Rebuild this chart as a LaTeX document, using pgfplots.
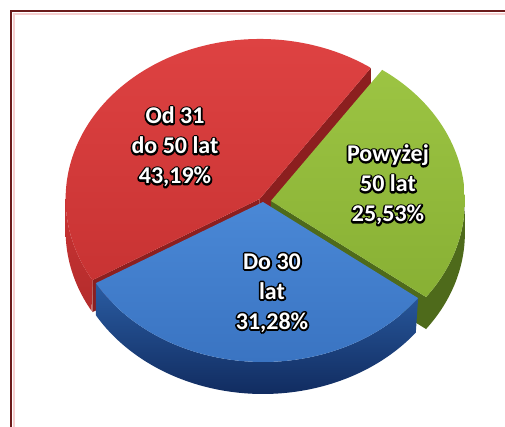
\documentclass[border=0pt]{standalone}
\usepackage{fontspec}
\setmainfont{Carlito}
\usepackage{pgfplots}
\usepackage{pgfplotstable}
\pgfplotsset{compat=1.18}

\definecolor{redTopA}{HTML}{DE4242}
\definecolor{redTopB}{HTML}{C83333}
\definecolor{redSide}{HTML}{8C1F1F}
\definecolor{redSideOut}{HTML}{B42C2C}
\definecolor{blueTopA}{HTML}{4A88D6}
\definecolor{blueTopB}{HTML}{3A74C2}
\definecolor{blueSideA}{HTML}{2A5CA2}
\definecolor{blueSideB}{HTML}{112C60}
\definecolor{greenTopA}{HTML}{9CC443}
\definecolor{greenTopB}{HTML}{88B034}
\definecolor{greenSide}{HTML}{4E6A1B}
\definecolor{frameC}{HTML}{6B1A1A}
\definecolor{frameGlow}{HTML}{F6CFCF}

% shares of the pie (percent)
\pgfplotstableread{
group value
Od31do50 43.19
Do30 31.28
Powyzej50 25.53
}\piedata

\newcommand\strk[1]{\special{pdf:literal direct 1 Tr 3.4 w 1 j}#1\special{pdf:literal direct 0 Tr}}

\pgfplotstablegetelem{0}{value}\of\piedata\let\vR\pgfplotsretval
\pgfplotstablegetelem{1}{value}\of\piedata\let\vB\pgfplotsretval
\pgfplotstablegetelem{2}{value}\of\piedata\let\vG\pgfplotsretval
% geometry (pixel-like units)
\def\cx{263}\def\cy{225}\def\ra{194}\def\rb{160}\def\dd{32}
\pgfmathsetmacro\aS{55}
\pgfmathsetmacro\aRB{\aS+3.6*\vR}
\pgfmathsetmacro\aBG{\aRB+3.6*\vB}
\pgfmathsetmacro\aE{\aBG+3.6*\vG}
% explosion offsets
\pgfmathsetmacro\mR{(\aS+\aRB)/2}
\pgfmathsetmacro\mG{(\aBG+\aE)/2}
\pgfmathsetmacro\rox{5*cos(\mR)}
\pgfmathsetmacro\roy{5*sin(\mR)*\rb/\ra}
\pgfmathsetmacro\gox{8*cos(\mG)}
\pgfmathsetmacro\goy{8*sin(\mG)*\rb/\ra}
\pgfmathsetmacro\rcx{\cx+\rox}\pgfmathsetmacro\rcy{\cy+\roy}
\pgfmathsetmacro\gcx{\cx+\gox}\pgfmathsetmacro\gcy{\cy+\goy}
\pgfmathsetmacro\rcyd{\rcy-\dd}\pgfmathsetmacro\gcyd{\gcy-\dd}
% radial faces
\pgfmathsetmacro\rAx{\rcx+\ra*cos(\aS)}\pgfmathsetmacro\rAy{\rcy+\rb*sin(\aS)}
\pgfmathsetmacro\rAyd{\rAy-\dd}
\pgfmathsetmacro\rBx{\rcx+\ra*cos(\aRB)}\pgfmathsetmacro\rBy{\rcy+\rb*sin(\aRB)}
\pgfmathsetmacro\rByd{\rBy-\dd}
\pgfmathsetmacro\gAx{\gcx+\ra*cos(\aBG)}\pgfmathsetmacro\gAy{\gcy+\rb*sin(\aBG)}
\pgfmathsetmacro\gAyd{\gAy-\dd}

\begin{document}%
\begin{tikzpicture}
\begin{axis}[width=505pt, height=427pt, scale only axis,
  xmin=0, xmax=505, ymin=0, ymax=427, hide axis, clip=true]
\fill[white] (axis cs:0,0) rectangle (axis cs:505,427);
% radial faces
\addplot[draw=none, fill=redSide] coordinates {(\rcx,\rcy) (\rAx,\rAy) (\rAx,\rAyd) (\rcx,\rcyd)} -- cycle;
\addplot[draw=none, fill=redSide] coordinates {(\rcx,\rcy) (\rBx,\rBy) (\rBx,\rByd) (\rcx,\rcyd)} -- cycle;
\addplot[draw=none, fill=greenSide] coordinates {(\gcx,\gcy) (\gAx,\gAy) (\gAx,\gAyd) (\gcx,\gcyd)} -- cycle;
% outer sides
\addplot[draw=none, top color=redTopB, bottom color=redSideOut, domain=0:2, samples=121, variable=\t]
 ({\rcx+\ra*cos(\t<=1 ? 180+(\aRB-180)*\t : \aRB-(\aRB-180)*(\t-1))},
  {\rcy+\rb*sin(\t<=1 ? 180+(\aRB-180)*\t : \aRB-(\aRB-180)*(\t-1)) - (\t>1)*\dd}) -- cycle;
\addplot[draw=none, top color=blueSideA, bottom color=blueSideB, domain=0:2, samples=201, variable=\t]
 ({\cx+\ra*cos(\t<=1 ? \aRB+(\aBG-\aRB)*\t : \aBG-(\aBG-\aRB)*(\t-1))},
  {\cy+\rb*sin(\t<=1 ? \aRB+(\aBG-\aRB)*\t : \aBG-(\aBG-\aRB)*(\t-1)) - (\t>1)*\dd}) -- cycle;
\addplot[draw=none, fill=greenSide, domain=0:2, samples=121, variable=\t]
 ({\gcx+\ra*cos(\t<=1 ? \aBG+(360-\aBG)*\t : 360-(360-\aBG)*(\t-1))},
  {\gcy+\rb*sin(\t<=1 ? \aBG+(360-\aBG)*\t : 360-(360-\aBG)*(\t-1)) - (\t>1)*\dd}) -- cycle;
% top surfaces
\addplot[draw=none, top color=redTopA, bottom color=redTopB, domain=\aS:\aRB, samples=120, variable=\t]
 ({\rcx+\ra*cos(\t)},{\rcy+\rb*sin(\t)}) -- (axis cs:\rcx,\rcy) -- cycle;
\addplot[draw=none, top color=blueTopA, bottom color=blueTopB, domain=\aRB:\aBG, samples=100, variable=\t]
 ({\cx+\ra*cos(\t)},{\cy+\rb*sin(\t)}) -- (axis cs:\cx,\cy) -- cycle;
\addplot[draw=none, top color=greenTopA, bottom color=greenTopB, domain=\aBG:\aE, samples=100, variable=\t]
 ({\gcx+\ra*cos(\t)},{\gcy+\rb*sin(\t)}) -- (axis cs:\gcx,\gcy) -- cycle;
% frame
\draw[frameGlow, line width=2.5pt] (axis cs:14,0) -- (axis cs:14,413) -- (axis cs:505,413);
\draw[frameC, line width=2pt] (axis cs:11,0) -- (axis cs:11,416) -- (axis cs:505,416);
% labels: black stroked layer, then white fill layer
\begin{scope}[every node/.style={align=center, text=black, font=\fontsize{24}{30}\selectfont\bfseries}]
\node at (axis cs:175,280) {\strk{Od 31\\do 50 lat\\43,19\%}};
\node at (axis cs:388,242) {\strk{Powyżej\\50 lat\\25,53\%}};
\node at (axis cs:272,134) {\strk{Do 30\\lat\\31,28\%}};
\end{scope}
\begin{scope}[every node/.style={align=center, text=white, font=\fontsize{24}{30}\selectfont\bfseries}]
\node at (axis cs:175,280) {Od 31\\do 50 lat\\43,19\%};
\node at (axis cs:388,242) {Powyżej\\50 lat\\25,53\%};
\node at (axis cs:272,134) {Do 30\\lat\\31,28\%};
\end{scope}
\end{axis}
\pgfresetboundingbox
\useasboundingbox (current axis.south west) rectangle (current axis.north east);
\end{tikzpicture}%
\end{document}
